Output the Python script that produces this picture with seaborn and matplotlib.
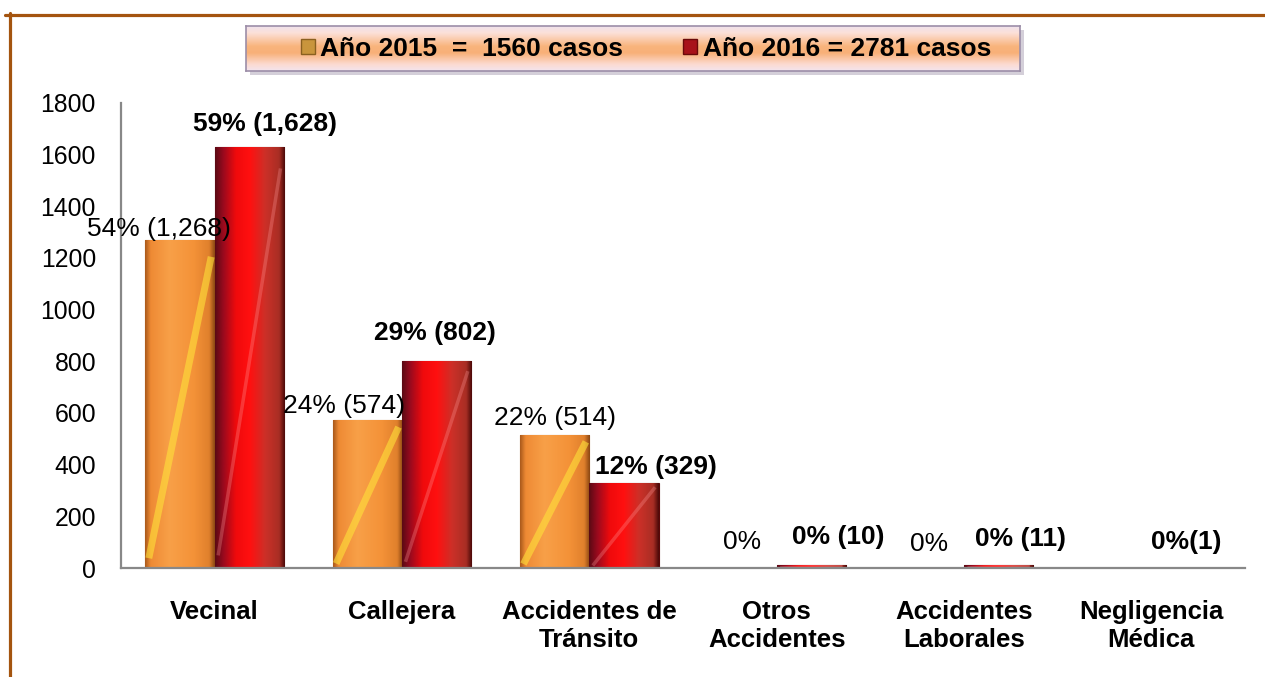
import numpy as np
import pandas as pd
import matplotlib
matplotlib.use('Agg')
import matplotlib.pyplot as plt
import seaborn as sns
from matplotlib.colors import LinearSegmentedColormap
from matplotlib.patches import Patch, Rectangle
from matplotlib.lines import Line2D

# Data
categorias = ['Vecinal', 'Callejera', 'Accidentes de\nTránsito', 'Otros\nAccidentes',
              'Accidentes\nLaborales', 'Negligencia\nMédica']
casos_2015 = [1268, 574, 514, 0, 0, 0]
casos_2016 = [1628, 802, 329, 10, 11, 1]
etiquetas_2015 = ['54% (1,268)', '24% (574)', '22% (514)', '0%', '0%', '']
etiquetas_2016 = ['59% (1,628)', '29% (802)', '12% (329)', '0% (10)', '0% (11)', '0%(1)']
series = ['Año 2015  =  1560 casos', 'Año 2016 = 2781 casos']
y_ticks = [0, 200, 400, 600, 800, 1000, 1200, 1400, 1600, 1800]

# label placement (pixels from bar top centre), as the labels sit in the original
off_2015 = [(-21, 11), (-23, 14), (0, 17), (0, 26), (0, 24), (0, 0)]
off_2016 = [(16, 23), (-2, 28), (32, 16), (27, 28), (22, 26), (0, 26)]

df = pd.DataFrame({
    'categoria': categorias * 2,
    'serie': [series[0]] * len(categorias) + [series[1]] * len(categorias),
    'casos': casos_2015 + casos_2016,
})

sns.set_theme(style='white')
plt.rcParams['font.family'] = ['Liberation Sans', 'DejaVu Sans']
plt.rcParams['text.color'] = 'black'

naranja = '#F39237'
rojo = '#D40F14'

fig = plt.figure(figsize=(12.65, 6.77), dpi=100)
ax = fig.add_axes([121 / 1265, 1 - 568 / 677, 1124 / 1265, 465 / 677])

sns.barplot(data=df, x='categoria', y='casos', hue='serie', order=categorias,
            palette=[naranja, rojo], width=0.74, gap=0, saturation=1,
            legend=False, ax=ax)

cmap_nar = LinearSegmentedColormap.from_list('nar', [
    (0.0, '#A8581A'), (0.08, '#EE8A34'), (0.35, '#F8A048'),
    (0.7, '#F49238'), (0.92, '#E0802C'), (1.0, '#8A4612')])
cmap_roj = LinearSegmentedColormap.from_list('roj', [
    (0.0, '#5A0A14'), (0.12, '#9A0A1E'), (0.3, '#F00A0C'),
    (0.5, '#FF1010'), (0.72, '#CC3028'), (0.92, '#A82E24'), (1.0, '#4A0808')])
grad = np.linspace(0, 1, 256).reshape(1, -1)

for cont, cmap, edge, streak, lw, alpha in zip(
        ax.containers, [cmap_nar, cmap_roj], ['#9A5012', '#5A0808'],
        ['#FFE23A', '#FF9A9A'], [5, 2.5], [0.6, 0.3]):
    for bar in cont:
        h = bar.get_height()
        bar.set_edgecolor(edge)
        bar.set_linewidth(0.8)
        if h <= 0:
            continue
        x0, w = bar.get_x(), bar.get_width()
        im = ax.imshow(grad, cmap=cmap, extent=(x0, x0 + w, 0, h), aspect='auto',
                       zorder=bar.get_zorder() + 0.1, interpolation='bicubic')
        im.set_clip_path(bar)
        ln, = ax.plot([x0 + 0.05 * w, x0 + 0.95 * w], [0.03 * h, 0.95 * h],
                      color=streak, lw=lw, alpha=alpha, zorder=bar.get_zorder() + 0.2,
                      solid_capstyle='butt')
        ln.set_clip_path(bar)

ax.set_xlim(-0.5, len(categorias) - 0.5)
ax.set_ylim(0, 1800)
ax.set_yticks(y_ticks)
ax.set_xlabel('')
ax.set_ylabel('')

for cont, etiquetas, offs, peso in zip(ax.containers, [etiquetas_2015, etiquetas_2016],
                                       [off_2015, off_2016], ['normal', 'bold']):
    for bar, txt, (dx, dy) in zip(cont, etiquetas, offs):
        if not txt:
            continue
        ax.annotate(txt, (bar.get_x() + bar.get_width() / 2, bar.get_height()),
                    xytext=(dx, dy), textcoords='offset pixels',
                    ha='center', va='center', fontsize=19, fontweight=peso,
                    color='black', zorder=10, annotation_clip=False)

for s in ['top', 'right']:
    ax.spines[s].set_visible(False)
for s in ['left', 'bottom']:
    ax.spines[s].set_color('#888888')
    ax.spines[s].set_linewidth(1.6)
ax.tick_params(axis='y', length=0, pad=18, labelsize=17.8, labelcolor='black')
ax.tick_params(axis='x', length=0, pad=23, labelsize=18.5, labelcolor='black')
for lab in ax.get_xticklabels():
    lab.set_fontweight('bold')
    lab.set_linespacing(1.2)
ax.grid(False)

# legend box with gradient fill
fig.add_artist(Rectangle((250 / 1265, 1 - 75 / 677), 774 / 1265, 45 / 677,
                         transform=fig.transFigure, facecolor='#B8B0C0',
                         edgecolor='none', alpha=0.6, zorder=1))
lax = fig.add_axes([246 / 1265, 1 - 71 / 677, 774 / 1265, 45 / 677], zorder=2)
cmap_leg = LinearSegmentedColormap.from_list('leg', [
    (0.0, '#EFE2EC'), (0.15, '#FCE0D8'), (0.45, '#F9B47C'),
    (0.6, '#F8B078'), (0.85, '#FCDAD0'), (1.0, '#F3E4EE')])
lax.imshow(np.linspace(0, 1, 128).reshape(-1, 1), cmap=cmap_leg, aspect='auto',
           extent=(0, 1, 0, 1))
lax.set_xticks([])
lax.set_yticks([])
for s in lax.spines.values():
    s.set_color('#9C8EA8')
    s.set_linewidth(1.2)

handles = [Patch(facecolor='#C9953C', edgecolor='#8A6020'),
           Patch(facecolor='#A8121A', edgecolor='#6A0A0A')]
leg = fig.legend(handles, series, loc='center', bbox_to_anchor=(646 / 1265, 1 - 49 / 677),
                 ncol=2, frameon=False, handlelength=0.53, handleheight=0.53,
                 handletextpad=0.2, columnspacing=2.27, labelcolor='black',
                 prop={'weight': 'bold', 'size': 19, 'family': 'Liberation Sans'})
leg.set_zorder(5)

# brown frame lines (top and left)
frame = '#A4540F'
fig.add_artist(Line2D([5 / 1265, 1], [1 - 14.5 / 677, 1 - 14.5 / 677],
                      transform=fig.transFigure, color=frame, lw=2.3))
fig.add_artist(Line2D([10 / 1265, 10 / 1265], [0, 1 - 13 / 677],
                      transform=fig.transFigure, color=frame, lw=2.3))

fig.savefig('out.png', dpi=100, facecolor='white')
plt.close(fig)
